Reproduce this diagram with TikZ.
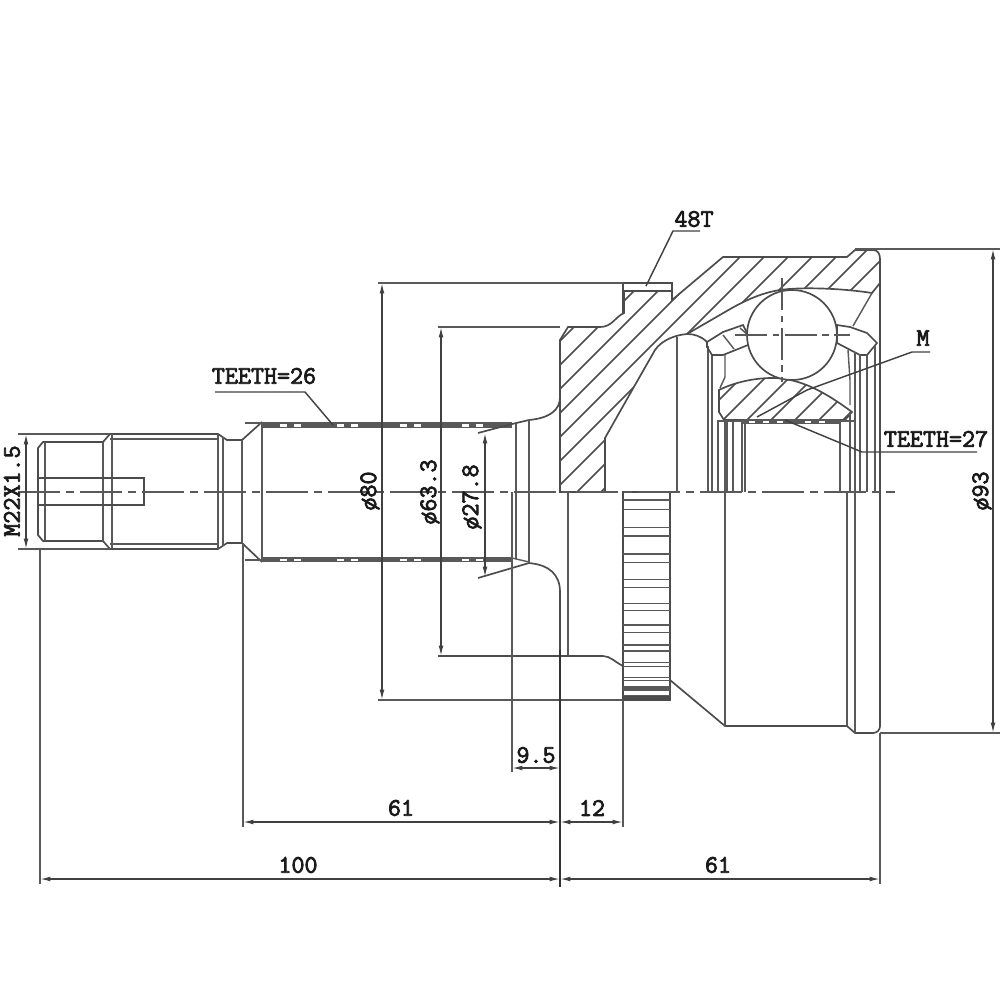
\documentclass[tikz,border=0pt]{standalone}
\usepackage{fontspec}
\usepackage{tikz}
\usetikzlibrary{arrows.meta}
\newfontfamily\dimfont[FakeBold=3]{Latin Modern Mono}
\def\raster{0.25mm}
\def\bellpath{(560,492) -- (560,340) -- (568,327) -- (600,327) .. controls (612,327) and (615,317) .. (624,313)
    -- (624,291) -- (672,291) -- (672,300) -- (723,257) -- (847,257) -- (855,250) -- (873,250)
    .. controls (878,250) and (880,254) .. (880,259) -- (880,283) -- (872,293)
    .. controls (840,288) and (800,287) .. (780,290) .. controls (760,293) and (742,302) .. (725,312)
    -- (687,334) .. controls (675,335) and (662,340) .. (655,350) -- (635,385) -- (605,438) -- (605,492) -- cycle}
\def\racepath{(719,412) -- (719,390) .. controls (735,382) and (755,378) .. (772,378)
    .. controls (800,378) and (825,392) .. (852,412) -- (845,420) -- (724,420) -- cycle}
\tikzset{
    part/.style={black!70, line width=0.42mm},
    thin part/.style={black!65, line width=0.36mm},
    hatching/.style={black!70, line width=0.36mm},
    axis/.style={black!65, line width=0.42mm, dash pattern=on 10.5mm off 1.6mm on 1.8mm off 1.6mm},
    dimension/.style={black!75, line width=0.34mm, {Latex[length=2.6mm,width=1.2mm]}-{Latex[length=2.6mm,width=1.2mm]}},
    extension/.style={black!65, line width=0.36mm},
    leader/.style={black!75, line width=0.36mm},
    label/.style={font=\fontsize{18}{19}\selectfont\dimfont, inner sep=0pt, text=black!90}
}
\begin{document}
\begin{tikzpicture}[x=\raster, y=-\raster]
    \useasboundingbox (0,0) rectangle (1000,1000);

    % hatching of the bell and the flange
    \begin{scope}
        \clip \bellpath;
        \foreach \s in {853,877,...,1429}
        {
            \draw[hatching] (\s-200,200) -- (\s-520,520);
        }
    \end{scope}
    \draw[part] \bellpath;

    % hatching of the inner race
    \begin{scope}
        \clip \racepath;
        \foreach \s in {1095,1119,...,1285}
        {
            \draw[hatching] (\s-360,360) -- (\s-430,430);
        }
    \end{scope}
    \draw[part] \racepath;

    % threaded end and shaft
    \draw[part] (45,442) -- (103,442) -- (110,434) -- (218,434) -- (227,440) -- (242,440) -- (262,422);
    \draw[part] (45,541) -- (103,541) -- (110,549) -- (218,549) -- (227,543) -- (242,543) -- (262,562);
    \draw[part] (45,442) -- (43,442) -- (38,448) -- (38,535) -- (43,541) -- (45,541);
    \draw[thin part] (110,439) -- (218,439);
    \draw[thin part] (110,544) -- (218,544);
    \foreach \x/\ya/\yb in {45/442/541, 103/442/541, 112/434/549, 218/434/549, 223/437/546, 242/440/543, 262/422/562}
    {
        \draw[thin part] (\x,\ya) -- (\x,\yb);
    }
    \draw[part] (38,478) -- (144,478) -- (144,505) -- (38,505);

    % splines of the shaft
    \foreach \ya/\yb in {422/428, 557/562}
    {
        \fill[black!65] (262,\ya) rectangle (512,\yb);
        \foreach \x in {283,297,340,354,403,417,465,479}
        {
            \fill[white] (\x-3.5,\ya+1.5) rectangle (\x+3.5,\yb-1.5);
        }
    }
    \draw[thin part] (245,423) -- (262,423);
    \draw[thin part] (245,560) -- (262,560);

    % neck of the shaft
    \draw[part] (478,433) -- (512,424) -- (529,420) .. controls (550,418) and (560,410) .. (560,397);
    \draw[part] (478,578) -- (512,568) -- (529,563) .. controls (550,565) and (560,575) .. (560,592);
    \draw[thin part] (512,558) -- (529,562);
    \foreach \x/\ya/\yb in {516/424/559, 529/420/563, 568/492/656}
    {
        \draw[thin part] (\x,\ya) -- (\x,\yb);
    }

    % stem below the axis
    \draw[part] (560,592) -- (560,656);
    \draw[part] (438,656) -- (603,656) .. controls (610,656) and (615,662) .. (623,666);
    \draw[extension] (378,700) -- (670,700);

    % flange step
    \draw[part] (623,313) -- (623,283) -- (672,283) -- (672,300);
    \draw[extension] (378,283) -- (623,283);
    \draw[extension] (438,327) -- (560,327);

    % gear ring
    \draw[part] (623,492) rectangle (670,700);
    \foreach \z in {30,58,112,138,192,218,268,292,340,362,405,428,465,483,517,530,562,572,592,602,618,628}
    {
        \draw[thin part] (623,490+\z/3) -- (670,490+\z/3);
    }
    \fill[black!65] (623,686) rectangle (670,691);
    \fill[black!70] (623,696) rectangle (670,701);

    % outer wall of the bell
    \draw[part] (670,680) -- (725,726) -- (847,726) -- (855,733) -- (873,733) .. controls (877,733) and (880,730) .. (880,726) -- (880,259);
    \foreach \x/\ya/\yb in {725/492/726, 847/492/726, 855/492/733}
    {
        \draw[thin part] (\x,\ya) -- (\x,\yb);
    }

    % socket and cage
    \draw[part] (687,334) .. controls (694,334) and (701,336) .. (707,342);
    \draw[thin part] (677,337) -- (677,492);
    \draw[thin part] (708,346) -- (708,492);
    \draw[thin part] (712,354) -- (712,492);
    \draw[part] (707,342) -- (723,332) -- (743,325) -- (748,335) -- (748,345) -- (723,355) -- (712,355) -- (707,347) -- cycle;
    \draw[thin part] (723,335) -- (734,349);
    \draw[thin part] (740,328) -- (748,335);
    \draw[thin part] (725,355) -- (725,377) -- (720,388);
    \draw[part] (837,325) -- (850,327) -- (867,333) -- (877,343) -- (867,355) -- (860,355) -- (837,343) -- cycle;
    \draw[thin part] (872,293) -- (853,326);
    \draw[thin part] (848,350) -- (850,380) -- (850,405);

    % walls under the race
    \foreach \x/\ya/\yb in {718/420/492, 725/420/492, 727/420/492, 733/420/492, 742/420/492, 745/420/492,
        840/420/492, 850/412/492, 855/352/492, 860/355/492, 867/355/492, 875/345/492}
    {
        \draw[thin part] (\x,\ya) -- (\x,\yb);
    }

    % splines of the race
    \fill[black!65] (743,419) rectangle (840,424);
    \foreach \x in {752,766,780,808,822}
    {
        \fill[white] (\x-3,420.5) rectangle (\x+3,422.5);
    }
    \draw[thin part] (717,421) -- (743,421);
    \draw[thin part] (840,421) -- (855,421);

    % ball
    \draw[part, fill=white] (792,335) circle (45*\raster);

    % center lines
    \draw[axis] (18,492) -- (895,492);
    \draw[thin part, dash pattern=on 8mm off 1.4mm on 1.6mm off 1.4mm] (782,278) -- (782,382);
    \draw[thin part, dash pattern=on 8mm off 1.4mm on 1.6mm off 1.4mm] (735,335) -- (850,335);

    % dimension points
    \coordinate (thrtop) at (26,434);
    \coordinate (thrbot) at (26,549);
    \coordinate (flatop) at (382,283);
    \coordinate (flabot) at (382,700);
    \coordinate (stetop) at (441,327);
    \coordinate (stebot) at (441,656);
    \coordinate (necktop) at (485,433);
    \coordinate (neckbot) at (485,577);
    \coordinate (beltop) at (993,249);
    \coordinate (belbot) at (993,733);
    \coordinate (necl) at (512,768);
    \coordinate (necr) at (560,768);
    \coordinate (shal) at (243,822);
    \coordinate (shar) at (560,822);
    \coordinate (gear) at (623,822);
    \coordinate (shaftl) at (40,879);
    \coordinate (shaftr) at (560,879);
    \coordinate (bellr) at (880,879);

    % extension lines
    \draw[extension] (18,434) -- (110,434);
    \draw[extension] (18,549) -- (110,549);
    \draw[extension] (855,249) -- (1000,249);
    \draw[extension] (880,733) -- (1000,733);
    \foreach \x/\ya/\yb in {40/549/884, 243/543/827, 512/492/772, 623/700/827, 880/733/884}
    {
        \draw[extension] (\x,\ya) -- (\x,\yb);
    }
    \draw[black!80, line width=0.5mm] (560,650) -- (560,887);

    % dimension lines
    \foreach \a/\b in {thrtop/thrbot, flatop/flabot, stetop/stebot, necktop/neckbot, beltop/belbot,
        necl/necr, shal/shar, shar/gear, shaftl/shaftr, shaftr/bellr}
    {
        \draw[dimension] (\a) -- (\b);
    }

    % labels
    \foreach \name/\x/\y/\rot/\txt in {
        labthr/12/491/90/M22X1.5,
        labfla/370/491/90/\o80,
        labste/430/492/90/\o63.3,
        labnec/472/497/90/\o27.8,
        labbel/982/491/90/\o93,
        lab95/536/755/0/9.5,
        labsha/401/808/0/61,
        labgea/592/808/0/12,
        labsht/298/865/0/100,
        labbll/718/865/0/61,
        lab48/694/219/0/48T,
        lab26/264/376/0/TEETH=26,
        labm/923/338/0/M,
        lab27/936/439/0/TEETH=27}
    {
        \node[label, rotate=\rot] (\name) at (\x,\y) {\txt};
    }

    % leaders
    \coordinate (t48a) at (700,231);
    \coordinate (t48b) at (673,231);
    \coordinate (t48c) at (646,286);
    \coordinate (t26a) at (215,392);
    \coordinate (t26b) at (305,392);
    \coordinate (t26c) at (333,425);
    \coordinate (ma) at (930,352);
    \coordinate (mb) at (912,352);
    \coordinate (mc) at (807,390);
    \coordinate (md) at (757,417);
    \coordinate (t27a) at (977,452);
    \coordinate (t27b) at (862,452);
    \coordinate (t27c) at (785,420);
    \draw[leader] (t48a) -- (t48b) -- (t48c);
    \draw[leader] (t26a) -- (t26b) -- (t26c);
    \draw[leader] (ma) -- (mb) -- (mc) -- (md);
    \draw[leader] (t27a) -- (t27b) -- (t27c);
\end{tikzpicture}
\end{document}
